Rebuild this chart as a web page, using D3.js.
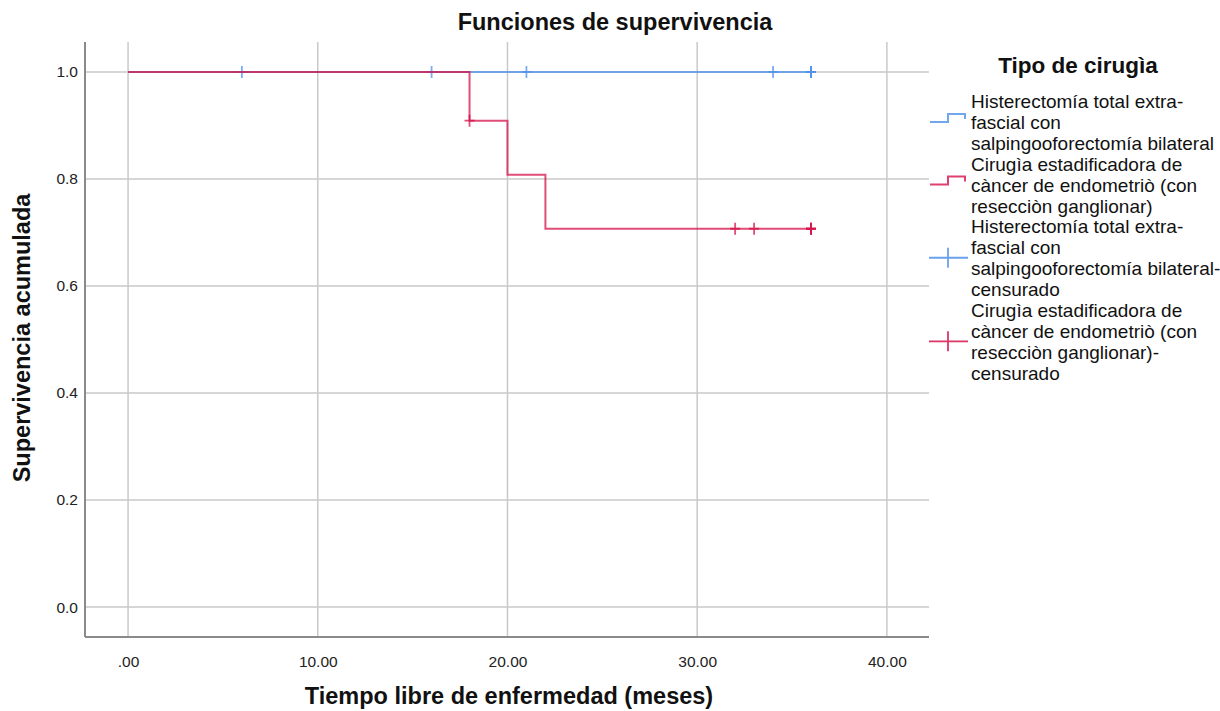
<!DOCTYPE html>
<html>
<head>
<meta charset="utf-8">
<script src="https://cdn.jsdelivr.net/npm/d3@7"></script>
<style>
  body { margin: 0; background: #fff; }
  svg { display: block; font-family: "Liberation Sans", Arial, sans-serif; }
</style>
</head>
<body>
<svg id="chart" width="1220" height="711"></svg>
<script>
// ---- Data ----
const groupNames = [
  "Histerectomía total extra-fascial con salpingooforectomía bilateral",
  "Cirugìa estadificadora de càncer de endometriò (con resecciòn ganglionar)"
];
// step curves: [time, survival]
const curveBlue = [[0, 1.0], [36, 1.0]];
const curveRed = [[0, 1.0], [18, 0.909], [20, 0.808], [22, 0.707], [36, 0.707]];
// censored observations: [time, survival]
const censorBlue = [[6, 1.0], [16, 1.0], [21, 1.0], [34, 1.0], [36, 1.0], [36, 1.0], [36, 1.0]];
const censorRed = [[18, 0.909], [32, 0.707], [33, 0.707], [36, 0.707], [36, 0.707], [36, 0.707]];
const xTicks = [0, 10, 20, 30, 40];
const yTicks = [0, 0.2, 0.4, 0.6, 0.8, 1.0];
const legendLines = [
  ["Histerectomía total extra-", "fascial con", "salpingooforectomía bilateral"],
  ["Cirugìa estadificadora de", "càncer de endometriò (con", "resecciòn ganglionar)"],
  ["Histerectomía total extra-", "fascial con", "salpingooforectomía bilateral-", "censurado"],
  ["Cirugìa estadificadora de", "càncer de endometriò (con", "resecciòn ganglionar)-", "censurado"]
];
const titleText = "Funciones de supervivencia";
const xTitle = "Tiempo libre de enfermedad (meses)";
const yTitle = "Supervivencia acumulada";
const legendTitle = "Tipo de cirugìa";

// ---- Layout ----
const blue = "#4f90e8", red = "#d6124a";
const svg = d3.select("#chart");
const x = d3.scaleLinear().domain([-2.27, 42.22]).range([85, 929]);
const y = d3.scaleLinear().domain([-0.056, 1.056]).range([637, 42]);

// grid
const grid = svg.append("g");
grid.selectAll(".gx").data(xTicks).join("line")
  .attr("x1", d => x(d)).attr("x2", d => x(d))
  .attr("y1", y.range()[1]).attr("y2", y.range()[0])
  .attr("stroke", "#c9c9c9").attr("stroke-width", 1.5);
grid.selectAll(".gy").data(yTicks).join("line")
  .attr("x1", x.range()[0]).attr("x2", x.range()[1])
  .attr("y1", d => y(d)).attr("y2", d => y(d))
  .attr("stroke", "#c9c9c9").attr("stroke-width", 1.5);

// axes
const xAxis = d3.axisBottom(x).tickValues(xTicks).tickSize(0).tickPadding(19)
  .tickFormat(d => d === 0 ? ".00" : d3.format(".2f")(d));
const gx = svg.append("g").attr("transform", `translate(0,${y.range()[0]})`).call(xAxis);
const yAxis = d3.axisLeft(y).tickValues(yTicks).tickSize(0).tickPadding(7)
  .tickFormat(d3.format(".1f"));
const gy = svg.append("g").attr("transform", `translate(${x.range()[0]},0)`).call(yAxis);
[gx, gy].forEach(g => {
  g.select(".domain").attr("stroke", "#8a8a8a").attr("stroke-width", 2);
  g.selectAll("text").attr("font-size", "15.5px").attr("fill", "#222")
    .attr("font-family", '"Liberation Sans", Arial, sans-serif');
});
gy.select(".domain").attr("d", `M0,${y.range()[1]}V${y.range()[0]}H0`);
gx.select(".domain").attr("d", `M${x.range()[0]},0H${x.range()[1]}`);

// curves
const stepLine = d3.line().x(d => x(d[0])).y(d => y(d[1])).curve(d3.curveStepAfter);
function drawSeries(curve, censors, color) {
  svg.append("path").datum(curve).attr("d", stepLine)
    .attr("fill", "none").attr("stroke", color).attr("stroke-width", 2)
    .attr("stroke-opacity", 0.75);
  const g = svg.append("g").attr("stroke", color).attr("stroke-width", 1.8).attr("stroke-opacity", 0.75);
  g.selectAll("path").data(censors).join("path")
    .attr("d", d => `M${x(d[0]) - 5},${y(d[1])}H${x(d[0]) + 5}M${x(d[0])},${y(d[1]) - 6}V${y(d[1]) + 6}`);
}
drawSeries(curveBlue, censorBlue, blue);
drawSeries(curveRed, censorRed, red);

// titles
svg.append("text").attr("x", 615).attr("y", 30).attr("text-anchor", "middle")
  .attr("font-size", "23.5px").attr("font-weight", "bold").attr("fill", "#111").text(titleText);
svg.append("text").attr("x", 509).attr("y", 704).attr("text-anchor", "middle")
  .attr("font-size", "23.5px").attr("font-weight", "bold").attr("fill", "#111").text(xTitle);
svg.append("text").attr("transform", "translate(30,338) rotate(-90)").attr("text-anchor", "middle")
  .attr("font-size", "23.5px").attr("font-weight", "bold").attr("fill", "#111").text(yTitle);

// legend
const lg = svg.append("g");
lg.append("text").attr("x", 1078).attr("y", 73).attr("text-anchor", "middle")
  .attr("font-size", "22.5px").attr("font-weight", "bold").attr("fill", "#111").text(legendTitle);
const lineH = 20.9, firstY = 108;
let idx = 0;
const symY = [];
legendLines.forEach((lines, i) => {
  const t = lg.append("text").attr("font-size", "19px").attr("fill", "#111");
  lines.forEach((s, j) => {
    t.append("tspan").attr("x", 971).attr("y", firstY + (idx + j) * lineH).text(s);
  });
  // vertical text centre of the item
  symY.push(firstY + (idx + (lines.length - 1) / 2) * lineH - 7);
  idx += lines.length;
});
const colors = [blue, red, blue, red];
symY.forEach((sy, i) => {
  const c = colors[i];
  if (i < 2) {
    lg.append("path").attr("d", `M930,${sy}H948V${sy - 8}H965V${sy - 3}`)
      .attr("fill", "none").attr("stroke", c).attr("stroke-width", 2).attr("stroke-opacity", 0.8);
  } else {
    lg.append("path").attr("d", `M929,${sy}H968M948,${sy - 10}V${sy + 10}`)
      .attr("fill", "none").attr("stroke", c).attr("stroke-width", 1.8).attr("stroke-opacity", 0.85);
  }
});
</script>
</body>
</html>
